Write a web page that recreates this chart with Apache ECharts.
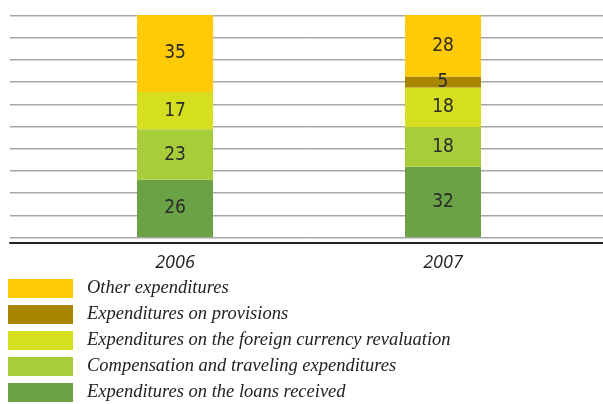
<!DOCTYPE html>
<html>
<head>
<meta charset="utf-8">
<script src="https://cdn.jsdelivr.net/npm/echarts@6/dist/echarts.min.js"></script>
<style>
  html, body { margin: 0; padding: 0; background: #fff; }
  #chart { width: 603px; height: 404px; }
</style>
</head>
<body>
<div id="chart"></div>
<script>
// Expenditure structure, % of total
const years = ['2006', '2007'];
const loansReceived = [26, 32];
const compensationTravel = [23, 18];
const currencyRevaluation = [17, 18];
const provisions = [0, 5];
const otherExpenditures = [35, 28];

const seriesNames = [
  'Expenditures on the loans received',
  'Compensation and traveling expenditures',
  'Expenditures on the foreign currency revaluation',
  'Expenditures on provisions',
  'Other expenditures'
];
const seriesValues = [loansReceived, compensationTravel, currencyRevaluation, provisions, otherExpenditures];
const seriesColors = ['#6aa245', '#a7cd3a', '#d6de20', '#a88600', '#fecb04'];

const yMax = 101;
const yStep = 10.1;

const chart = echarts.init(document.getElementById('chart'), null, { renderer: 'canvas' });

const bars = seriesNames.map((name, i) => ({
  name: name,
  type: 'bar',
  stack: 'total',
  xAxisIndex: 1,
  yAxisIndex: 1,
  barWidth: 76,
  data: seriesValues[i],
  itemStyle: { color: seriesColors[i] },
  label: {
    show: true,
    position: 'inside',
    color: '#2b2b2b',
    fontSize: 19,
    fontFamily: '"DejaVu Sans Condensed", "Liberation Sans Narrow", sans-serif',
    formatter: p => (p.value ? String(p.value) : '')
  }
}));

chart.setOption({
  animation: false,
  grid: [
    { left: 10, right: 0, top: 15, height: 222 },
    { left: 41, right: 26, top: 15, height: 222 }
  ],
  xAxis: [
    {
      gridIndex: 0, type: 'category', data: [''],
      offset: 6,
      axisLine: { show: true, onZero: false, lineStyle: { color: '#222', width: 2 } },
      axisTick: { show: false }, axisLabel: { show: false }
    },
    {
      gridIndex: 1, type: 'category', data: years,
      axisLine: { show: false }, axisTick: { show: false },
      axisLabel: {
        margin: 17, color: '#222', fontSize: 18, fontStyle: 'italic',
        fontFamily: '"Open Sans", sans-serif'
      }
    }
  ],
  yAxis: [
    {
      gridIndex: 0, type: 'value', min: 0, max: yMax, interval: yStep,
      axisLine: { show: false }, axisTick: { show: false }, axisLabel: { show: false },
      splitLine: { show: true, lineStyle: { color: '#a6a6a6', width: 1, shadowColor: '#d4d4d4', shadowOffsetY: 1, shadowBlur: 0 } }
    },
    {
      gridIndex: 1, type: 'value', min: 0, max: yMax, interval: yStep,
      axisLine: { show: false }, axisTick: { show: false }, axisLabel: { show: false },
      splitLine: { show: false }
    }
  ],
  legend: {
    orient: 'vertical',
    left: 8,
    top: 274.5,
    height: 135,
    padding: 0,
    itemWidth: 65,
    itemHeight: 19,
    itemGap: -2,
    icon: 'rect',
    data: seriesNames.slice().reverse(),
    textStyle: {
      color: '#222',
      fontSize: 18.5,
      lineHeight: 19,
      fontStyle: 'italic',
      fontFamily: '"Liberation Serif", serif',
      padding: [9, 0, 0, 9]
    }
  },
  series: bars
});
</script>
</body>
</html>
